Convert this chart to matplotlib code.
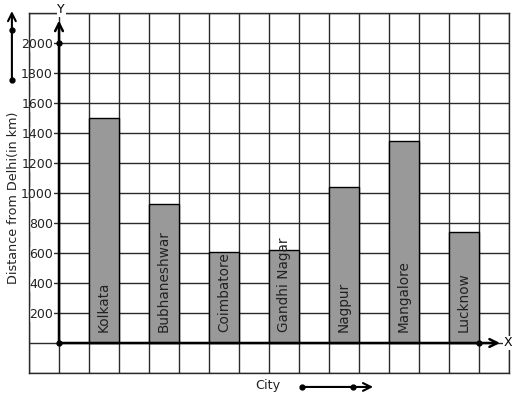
import matplotlib
matplotlib.use("Agg")
import matplotlib.pyplot as plt

cities = ["Kolkata", "Bubhaneshwar", "Coimbatore", "Gandhi Nagar",
          "Nagpur", "Mangalore", "Lucknow"]
distances = [1500, 925, 610, 618, 1040, 1345, 740]
y_ticks = list(range(-200, 2201, 200))
y_tick_labels = ["" if v <= 0 or v > 2000 else str(v) for v in y_ticks]

W, H = 517, 399
fig = plt.figure(figsize=(W / 100, H / 100), dpi=100)
ax = fig.add_axes([29 / W, (H - 373) / H, 480 / W, 360 / H])

ax.set_xlim(-1, 15)
ax.set_ylim(-200, 2200)

grid_col = "#2a2a2a"
ax.set_xticks(range(-1, 16))
ax.set_xticklabels([])
ax.set_yticks(y_ticks)
ax.set_yticklabels(y_tick_labels, fontsize=9, color="#222222")
ax.tick_params(length=0)
ax.tick_params(axis="y", pad=-17.3)
for lab in ax.get_yticklabels():
  lab.set_bbox(dict(facecolor="white", edgecolor="none", pad=0.5))
  lab.set_zorder(6)
ax.grid(True, color=grid_col, lw=1.0, zorder=0)
ax.set_axisbelow(True)
for sp in ax.spines.values():
  sp.set_color(grid_col)
  sp.set_linewidth(1.0)

# bars sit on every other grid cell
xs = [2 * i + 1 for i in range(len(cities))]
ax.bar(xs, distances, width=1, align="edge", color="#999999",
       edgecolor="black", lw=1.0, zorder=3)
for x, name in zip(xs, cities):
  ax.text(x + 0.5, 72, name, rotation=90, ha="center", va="bottom",
          fontsize=9.8, color="#222222", zorder=4)

# axes with arrows
arrow = dict(arrowstyle="->", lw=1.8, color="black", mutation_scale=14,
             shrinkA=0, shrinkB=0)
ax.annotate("", xy=(0, 2150), xytext=(0, 0), arrowprops=arrow, zorder=5)
ax.annotate("", xy=(14.7, 0), xytext=(0, 0), arrowprops=arrow, zorder=5)
ax.plot([0, 0, 14], [0, 2000, 0], "o", color="black", ms=3.5, zorder=6,
        clip_on=False)
ax.text(0.07, 2222, "Y", ha="center", va="center", fontsize=9, zorder=7,
        bbox=dict(facecolor="white", edgecolor="none", pad=0.5), clip_on=False)
ax.text(14.97, 0, "X", ha="center", va="center", fontsize=9, zorder=7,
        bbox=dict(facecolor="white", edgecolor="none", pad=0.5), clip_on=False)

# labels with direction arrows
ax.text(-1.53, 970, "Distance from Delhi(in km)", rotation=90,
        ha="center", va="center", fontsize=9.2, color="#222222", clip_on=False)
ax.text(6.97, -282, "City", ha="center", va="center", fontsize=9.2,
        color="#222222", clip_on=False)
small = dict(arrowstyle="->", lw=1.5, color="black", mutation_scale=14,
             shrinkA=0, shrinkB=0)
ax.annotate("", xy=(-1.57, 2213), xytext=(-1.57, 1753), arrowprops=small,
            annotation_clip=False)
ax.plot([-1.57, -1.57], [1753, 2087], "o", color="black", ms=3.5,
        clip_on=False)
ax.annotate("", xy=(10.47, -293), xytext=(8.1, -293), arrowprops=small,
            annotation_clip=False)
ax.plot([8.1, 9.8], [-293, -293], "o", color="black", ms=3.5, clip_on=False)

fig.savefig("out.png", dpi=100)
